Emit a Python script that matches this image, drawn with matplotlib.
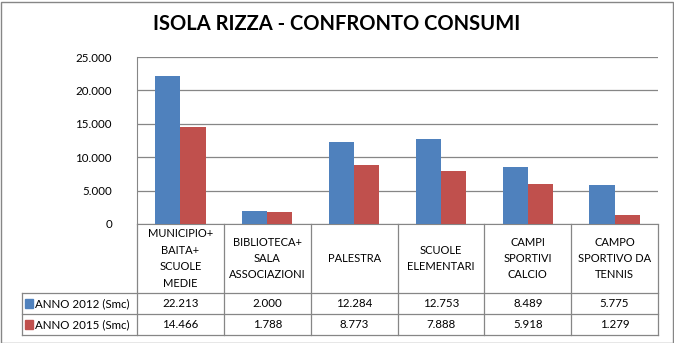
import matplotlib.pyplot as plt
import numpy as np
from matplotlib.patches import Rectangle
from matplotlib.transforms import blended_transform_factory

plt.rcParams['font.family'] = ['Lato', 'DejaVu Sans']

categories = ["MUNICIPIO+\nBAITA+\nSCUOLE\nMEDIE", "BIBLIOTECA+\nSALA\nASSOCIAZIONI", "PALESTRA",
              "SCUOLE\nELEMENTARI", "CAMPI\nSPORTIVI\nCALCIO", "CAMPO\nSPORTIVO DA\nTENNIS"]
anno_2012 = [22213, 2000, 12284, 12753, 8489, 5775]
anno_2015 = [14466, 1788, 8773, 7888, 5918, 1279]
series_names = ["ANNO 2012 (Smc)", "ANNO 2015 (Smc)"]
colors = ["#4F81BD", "#C0504D"]
yticks = [0, 5000, 10000, 15000, 20000, 25000]


def fmt(v):
    return f"{v:,}".replace(",", ".")


W, H = 674, 343
fig = plt.figure(figsize=(W / 100, H / 100), dpi=100)
fig.patches.append(Rectangle((0.5 / W, 0.5 / H), (W - 2) / W, (H - 2) / H, transform=fig.transFigure,
                             fill=False, edgecolor="#868686", linewidth=1))

left, right, top, bottom = 137, 658, 57, 224
ax = fig.add_axes([left / W, 1 - bottom / H, (right - left) / W, (bottom - top) / H])

x = np.arange(len(categories))
bw = 0.29
ax.bar(x - bw / 2, anno_2012, width=bw, color=colors[0], zorder=3)
ax.bar(x + bw / 2, anno_2015, width=bw, color=colors[1], zorder=3)

ax.set_xlim(-0.5, len(categories) - 0.5)
ax.set_ylim(0, 25000)
ax.set_yticks(yticks)
ax.set_yticklabels([fmt(v) for v in yticks], fontsize=8.3)
ax.tick_params(axis="y", length=0, pad=18)
ax.set_xticks([])
ax.grid(axis="y", color="#868686", linewidth=0.9, zorder=0)
for s in ["top", "right"]:
    ax.spines[s].set_visible(False)
ax.spines["left"].set_color("#868686")
ax.spines["bottom"].set_color("#868686")

fig.text(0.5, 1 - 24 / H, "ISOLA RIZZA - CONFRONTO CONSUMI", ha="center", va="center",
         fontsize=14.5, fontweight="bold")

# data table below the axes
tr = blended_transform_factory(ax.transData, ax.transAxes)
ph = bottom - top
y_head = -(293 - bottom) / ph
y_r1 = -(314 - bottom) / ph
y_r2 = -(335 - bottom) / ph
x0 = -0.5 + (22 - left) / ((right - left) / len(categories))
lc = "#868686"
lw = 0.9
n = len(categories)

ax.plot([-0.5, -0.5], [0, y_r2], color=lc, lw=lw, transform=tr, clip_on=False)
for i in range(1, n + 1):
    ax.plot([i - 0.5, i - 0.5], [0, y_r2], color=lc, lw=lw, transform=tr, clip_on=False)
ax.plot([x0, x0], [y_head, y_r2], color=lc, lw=lw, transform=tr, clip_on=False)
for yy in [y_head, y_r1, y_r2]:
    ax.plot([x0, n - 0.5], [yy, yy], color=lc, lw=lw, transform=tr, clip_on=False)

for i, c in enumerate(categories):
    ax.text(i, y_head / 2, c, ha="center", va="center", fontsize=8, linespacing=1.6,
            transform=tr, clip_on=False)
rows = [(y_head, y_r1, anno_2012), (y_r1, y_r2, anno_2015)]
for k, (ya, yb, vals) in enumerate(rows):
    ym = (ya + yb) / 2
    for i, v in enumerate(vals):
        ax.text(i, ym, fmt(v), ha="center", va="center", fontsize=8.3, transform=tr, clip_on=False)
    ax.add_patch(Rectangle((x0 + 0.04, ym - 0.025), 0.09, 0.05, color=colors[k], transform=tr,
                           clip_on=False))
    ax.text(x0 + 0.15, ym, series_names[k], ha="left", va="center", fontsize=8.3, transform=tr,
            clip_on=False)

fig.savefig("out.png", dpi=100)
